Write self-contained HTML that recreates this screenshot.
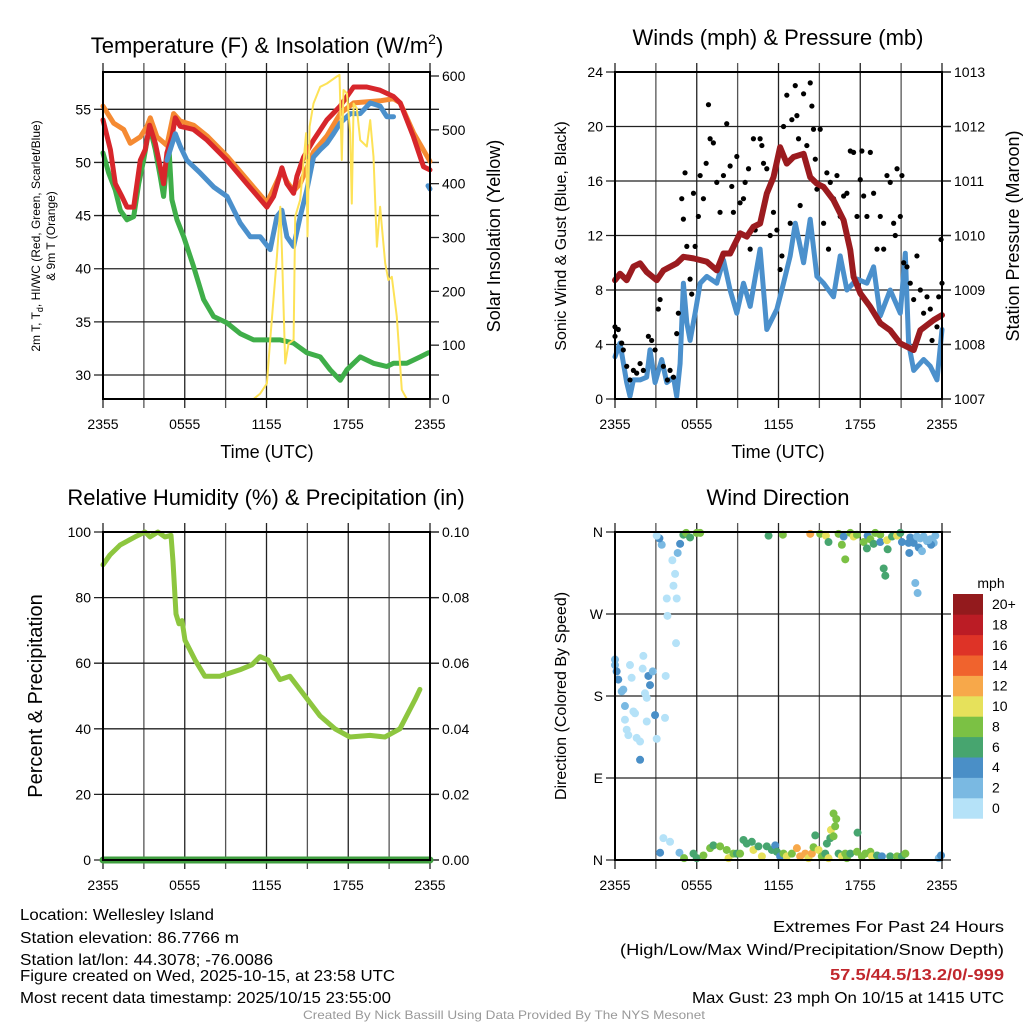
<!DOCTYPE html>
<html><head><meta charset="utf-8">
<style>
html,body{margin:0;padding:0;background:#fff;}
svg{display:block;font-family:"Liberation Sans",sans-serif;}
</style></head>
<body>
<svg id="fig" width="1024" height="1024" viewBox="0 0 1024 1024">
<g id="layer-bg"></g>
<g id="layer-data"></g>
<g id="layer-fg"></g>
<g id="layer-text" font-family="Liberation Sans, sans-serif" fill="#000">
  <text x="267" y="53" font-size="22" text-anchor="middle">Temperature (F) &amp; Insolation (W/m<tspan font-size="14" dy="-9">2</tspan><tspan dy="9">)</tspan></text>
  <text x="778" y="45" font-size="22" text-anchor="middle">Winds (mph) &amp; Pressure (mb)</text>
  <text x="266" y="505" font-size="22" text-anchor="middle">Relative Humidity (%) &amp; Precipitation (in)</text>
  <text x="778" y="505" font-size="22" text-anchor="middle">Wind Direction</text>

  <text x="267" y="458" font-size="18" text-anchor="middle">Time (UTC)</text>
  <text x="778" y="458" font-size="18" text-anchor="middle">Time (UTC)</text>

  <text transform="translate(40,236) rotate(-90)" font-size="12" text-anchor="middle">2m T, T<tspan font-size="9" dy="3">d</tspan><tspan dy="-3">, HI/WC (Red, Green, Scarlet/Blue)</tspan></text>
  <text transform="translate(55,236) rotate(-90)" font-size="12" text-anchor="middle">&amp; 9m T (Orange)</text>
  <text transform="translate(500,236) rotate(-90)" font-size="18" text-anchor="middle">Solar Insolation (Yellow)</text>
  <text transform="translate(566,236) rotate(-90)" font-size="16" text-anchor="middle">Sonic Wind &amp; Gust (Blue, Black)</text>
  <text transform="translate(1019,236) rotate(-90)" font-size="18" text-anchor="middle">Station Pressure (Maroon)</text>
  <text transform="translate(42,696) rotate(-90)" font-size="20" text-anchor="middle">Percent &amp; Precipitation</text>
  <text transform="translate(566,696) rotate(-90)" font-size="16" text-anchor="middle">Direction (Colored By Speed)</text>

  <text x="991" y="588" font-size="14" text-anchor="middle">mph</text>

  <g font-size="16">
    <text x="20" y="920" textLength="194" lengthAdjust="spacingAndGlyphs">Location: Wellesley Island</text>
    <text x="20" y="943" textLength="219" lengthAdjust="spacingAndGlyphs">Station elevation: 86.7766 m</text>
    <text x="20" y="965" textLength="253" lengthAdjust="spacingAndGlyphs">Station lat/lon: 44.3078; -76.0086</text>
    <text x="20" y="981" textLength="375" lengthAdjust="spacingAndGlyphs">Figure created on Wed, 2025-10-15, at 23:58 UTC</text>
    <text x="20" y="1003" textLength="371" lengthAdjust="spacingAndGlyphs">Most recent data timestamp: 2025/10/15 23:55:00</text>
  </g>
  <g font-size="16">
    <text x="773" y="932" textLength="231" lengthAdjust="spacingAndGlyphs">Extremes For Past 24 Hours</text>
    <text x="620" y="955" textLength="384" lengthAdjust="spacingAndGlyphs">(High/Low/Max Wind/Precipitation/Snow Depth)</text>
    <text x="830" y="980" textLength="174" lengthAdjust="spacingAndGlyphs" fill="#c1272d" font-weight="bold">57.5/44.5/13.2/0/-999</text>
    <text x="692" y="1003" textLength="312" lengthAdjust="spacingAndGlyphs">Max Gust: 23 mph On 10/15 at 1415 UTC</text>
  </g>
  <text x="303" y="1019" font-size="12" fill="#999" textLength="402" lengthAdjust="spacingAndGlyphs">Created By Nick Bassill Using Data Provided By The NYS Mesonet</text>
</g>
</svg>
<script>
// ---- data (hours since 2355 UTC) ----
const timeTickLabels = ["2355","0555","1155","1755","2355"];
const tempTicks = [30,35,40,45,50,55];
const insolTicks = [0,100,200,300,400,500,600];
const windTicks = [0,4,8,12,16,20,24];
const presTicks = [1007,1008,1009,1010,1011,1012,1013];
const rhTicks = [0,20,40,60,80,100];
const precipTicks = ["0.00","0.02","0.04","0.06","0.08","0.10"];
const dirTickLabels = ["N","E","S","W","N"];

const tRedH = [0,0.54,0.9,1.39,1.76,2.25,2.74,3.1,3.42,3.84,4.2,4.45,4.69,5.06,5.31,5.67,6.65,7.63,9.1,10.56,12.03,12.52,13.13,13.5,13.99,14.23,14.72,15.45,16.43,17.41,18.39,19.36,20.34,21.32,21.81,22.79,23.52,24];
const tRedV = [54,51.2,48,46.8,45.8,45.8,50.2,51.2,53.5,51.8,49.6,48,50.9,52.4,54.2,53.4,53.1,52.1,50.2,48,45.8,46.8,49.5,48,47.1,48.7,50.5,52.1,54,55.3,57.1,57.1,56.8,56.2,55.6,52.4,49.6,49.3];
const tOrgH = [0,0.78,1.52,2.0,2.74,3.23,3.47,3.96,4.69,5.18,5.67,6.65,7.63,9.1,10.56,12.03,13.13,13.5,13.99,14.47,15.45,16.43,17.41,18.39,20.34,21.32,21.81,22.79,24];
const tOrgV = [55.3,53.7,53.1,51.8,52.4,53.4,54.2,52.4,51.6,54.6,53.9,53.5,52.5,50.6,48.4,46.2,49.2,48.2,47.3,48,51,52.5,54.6,55.6,55.8,56,55.6,52.8,50.1];
const tBluH = [4.69,5.31,5.67,6.16,7.14,8.12,9.1,10.07,10.81,11.54,12.27,12.76,13.13,13.5,13.99,14.47,14.96,15.45,15.94,16.43,16.92,17.41,18.14,18.88,19.61,20.34,20.83,21.32];
const tBluV = [50.2,52.7,51.5,50.2,49,47.7,46.8,44.3,43,43,41.8,44.9,45.5,43,42.1,44.9,47.4,50.5,51.2,51.8,52.7,53.7,54.6,54.6,55.6,55.3,54.3,54.3];
const tBluEndH = [23.85,24];
const tBluEndV = [47.8,47.5];
const tGrnH = [0,0.42,0.9,1.27,1.76,2.25,2.62,2.98,3.42,3.84,4.2,4.45,4.82,5.06,5.43,5.92,6.65,7.38,8.12,9.1,10.07,11.05,12.03,13.01,13.99,14.96,15.94,16.67,17.41,17.9,18.88,19.85,20.83,21.32,22.3,23.28,23.89];
const tGrnV = [50.9,49,47.4,45.5,44.6,44.9,48,50.2,53.4,51.2,48.7,46.8,51.8,46.5,44.6,43,40.2,37.1,35.5,34.9,33.9,33.3,33.3,33.3,33,32.1,31.7,30.5,29.5,30.5,31.7,31.1,30.8,31.1,31.1,31.7,32.1];
const insolH = [0,11.05,11.54,12.03,12.27,12.76,13.01,13.13,13.37,13.62,13.99,14.11,14.47,14.91,15.01,15.16,15.45,15.94,16.43,17.16,17.36,17.53,17.65,17.9,18.14,18.26,18.39,18.63,18.88,19.36,19.61,19.85,20.1,20.34,20.71,20.95,21.2,21.56,21.93,22.3,24];
const insolV = [0,0,10,29,110,264,357,277,66,103,110,339,370,494,302,506,549,580,586,599,602,444,574,568,494,363,549,540,481,469,518,450,283,357,252,221,227,153,17,0,0];

const presH = [0,0.37,0.86,1.35,1.84,2.33,3.06,3.55,4.53,5.02,5.76,6.74,7.47,7.96,8.45,9.18,9.67,10.16,10.65,11.14,11.63,12.12,12.61,13.1,13.84,14.33,14.82,15.31,16.04,16.78,17.27,17.51,18,18.74,19.47,20.2,20.94,21.92,22.41,23.39,24];
const presV = [1009.18,1009.3,1009.18,1009.43,1009.49,1009.33,1009.18,1009.36,1009.49,1009.61,1009.58,1009.52,1009.36,1009.67,1009.67,1010.04,1009.98,1010.16,1010.22,1010.77,1011.07,1011.62,1011.32,1011.44,1011.5,1011.07,1010.95,1010.89,1010.65,1010.28,1009.73,1009.24,1008.94,1008.69,1008.39,1008.26,1008.02,1007.9,1008.26,1008.45,1008.54];
const windH = [0,0.37,0.86,1.1,1.35,1.84,2.33,2.57,2.94,3.43,3.8,4.29,4.53,4.78,5.02,5.27,5.51,5.88,6.25,6.74,7.47,7.96,8.45,8.94,9.43,9.92,10.65,11.14,11.88,12.37,12.86,13.23,13.84,14.33,14.82,15.31,16.04,16.53,17.02,17.76,18.49,18.98,19.47,20.2,20.94,21.31,21.55,21.92,22.65,23.14,23.63,24];
const windV = [3.1,4.1,1.2,0.2,1.4,1.4,1.6,3.6,1.2,2.9,1.2,1.6,0.2,2.6,8.5,5.6,4.3,6.3,8.5,9,8.5,10.2,8,6.3,8.5,6.8,11,5.1,6.6,8.5,10.5,12.9,10,13.2,9,8.5,7.5,10.5,8,8.8,8.5,9.7,6.1,8,6.3,10.7,4.1,2.1,2.9,2.4,1.4,5.1];
const gustH = [0,0,0.24,0.49,0.61,0.86,1.1,1.35,1.59,1.84,2.08,2.45,2.69,2.94,3.18,3.31,3.55,3.85,4.04,4.29,4.53,4.65,4.9,5.02,5.14,5.27,5.51,5.63,5.76,5.88,6.12,6.25,6.49,6.69,6.86,6.98,7.22,7.47,7.71,7.96,8.2,8.45,8.57,8.69,8.94,9.18,9.43,9.55,9.8,9.92,10.16,10.29,10.65,10.78,10.9,11.14,11.39,11.63,11.88,12.12,12.25,12.37,12.61,12.86,12.98,13.23,13.35,13.47,13.59,13.84,14.08,14.33,14.45,14.57,14.7,14.82,15.06,15.31,15.55,15.67,15.8,16.04,16.29,16.53,16.78,17.02,17.27,17.51,17.76,18,18.12,18.25,18.49,18.74,18.98,19.23,19.47,19.72,19.96,20.2,20.45,20.57,20.7,20.94,21.06,21.19,21.43,21.67,21.92,22.16,22.41,22.65,22.9,23.14,23.27,23.39,23.63,23.76,23.93,24];
const gustV = [4.6,5.3,5.1,4.1,3.6,2.4,1.4,2.1,1.9,2.6,2.1,4.6,4.3,3.6,6.6,7.3,2.4,1.4,2.1,1.6,4.8,6.3,14.7,13.2,16.6,11.2,8.8,7.7,15.1,11.2,13.4,16.4,14.7,17.3,21.6,19.1,18.8,15.9,13.7,16.4,20.2,17.1,15.6,13.7,17.8,14.4,14.7,15.9,16.9,11,19.1,12.4,19.1,18.6,17.3,16.9,12,13.7,12.4,9.5,10.5,20,22.3,12.9,20.5,23,20.8,19.1,14.2,22.4,18.6,23.2,21.5,19.8,17.6,15.4,19.8,12.9,16.6,11,15.9,14.7,16.4,13.4,14.9,15.1,18.2,18.1,13.4,16.1,18.2,14.9,13.4,18.1,15.1,11,13.4,11,16.4,15.9,12.9,12,16.9,13.4,16.4,10,9.7,8.5,7.3,10.5,8,6.3,7.5,6.6,4.3,5.8,5.3,7.5,11.7,8.5];

const rhH = [0,0.51,1.25,2.35,3.08,3.45,4.03,4.55,4.99,5.14,5.36,5.58,5.8,6.02,6.75,7.48,8.58,10.05,10.93,11.52,12.1,12.98,13.72,14.82,15.92,17.02,18.12,19.59,20.69,21.79,22.89,23.26];
const rhV = [90,93,96,98.5,100,98.5,100,98.5,99,91,75,72,73,67,61,56,56,58,59.5,62,61,55,56,50,44,40,37.5,38,37.5,40,48.8,52];
const precipH = [0,24];
const precipV = [0,0];

const dirH = [0,0,0.12,0.24,0.49,0.61,0.73,1.1,1.22,1.35,1.47,0.73,0.86,0.98,1.59,1.84,1.84,2.08,2.03,2.2,2.33,2.45,2.57,2.77,2.94,2.33,3.06,3.67,3.72,4.48,3.85,3.8,4.53,4.29,4.41,4.21,4.6,4.78,3.43,3.26,3.06,5.02,5.22,5.51,6,6.25,3.31,3.55,4.04,4.73,5.07,
5.76,6,6.49,6.98,7.22,7.71,8.2,8.33,8.69,8.94,9.18,9.43,9.67,10.04,10.16,10.53,10.78,11.14,11.51,11.76,11.88,12.12,12.37,12.61,12.98,13.35,13.59,13.96,14.2,14.45,14.57,14.7,14.94,15.18,15.43,15.55,15.67,15.8,15.85,16.04,16.16,16.04,16.24,16.41,16.65,16.9,17.02,17.27,17.76,17.8,18.12,18.37,18.74,18.86,19.23,19.59,20.2,20.7,21.06,21.31,23.76,23.93,
11.27,12.32,14.33,15.06,15.48,15.67,16.41,16.65,16.78,16.9,17.27,17.51,17.76,18.25,18.49,18.54,18.74,18.98,19.1,19.47,19.47,19.72,19.84,19.96,20.01,20.33,20.7,20.94,21.06,21.55,21.6,21.67,21.92,22.04,22.21,22.16,22.29,22.53,22.65,22.9,23.14,23.39,23.51,23.2,23.0,22.4];
const dirD = [220,214,207,198,185,187,169,214,200,163,161,154,143,137,134,130,110,224,210,183,178,202,192,207,159,152,133,156,202,238,268,287,287,301,314,329,337,347,346,353,356,357,359,354,359,359,8,24,20,8,2,
7,2,5,13,16,15,11,2,7,7,7,22,18,20,11,15,4,15,11,16,9,4,7,4,7,13,4,7,2,7,14,27,11,4,7,18,2,24,33,26,37,51,45,7,4,7,2,7,9,30,4,7,9,4,5,4,4,4,4,7,2,5,
356,357,358,358,356,349,358,346,355,330,359,355,357,349,342,356,352,347,359,357,349,320,312,351,341,355,356,359,349,348,337,354,348,304,293,355,343,339,355,350,352,348,356,346,351,353];
const dirS = [3,3,5,5,3,3,3,1,1,1,1,1,1,1,1,1,5,1,1,1,1,5,5,3,5,1,1,1,1,1,1,1,1,1,1,1,3,5,3,5,1,7,9,7,9,9,5,1,1,3,9,
7,7,9,9,7,9,9,11,9,7,9,7,7,7,11,7,11,7,7,5,7,5,9,11,9,13,13,13,11,13,9,7,11,9,7,7,11,7,11,9,9,9,9,7,11,9,9,7,9,7,9,9,9,11,7,5,7,9,7,9,2,5,
7,9,13,9,11,7,9,9,5,9,9,11,9,9,7,5,9,7,9,9,5,7,7,11,7,7,11,7,5,5,5,5,5,3,3,3,5,3,3,3,3,3,3,5,3,3];
const speedBinLabels = ["0","2","4","6","8","10","12","14","16","18","20+"];
const speedColors = ["#b5e2f8","#7ab9e2","#4a8fc7","#47a56f","#7bc144","#e6e15b","#f7a84a","#f0632d","#de3327","#bb1c25","#931a1d"];

// ---- helpers ----
const NS = "http://www.w3.org/2000/svg";
const bg = document.getElementById('layer-bg');
const dl = document.getElementById('layer-data');
const fg = document.getElementById('layer-fg');
function mk(tag, attrs, parent){
  const e = document.createElementNS(NS, tag);
  for (const k in attrs) e.setAttribute(k, attrs[k]);
  parent.appendChild(e);
  return e;
}
function lin(d0,d1,r0,r1){ return v => r0 + (v-d0)*(r1-r0)/(d1-d0); }

const P = {
  temp:{x0:103,x1:430,y0:72,y1:399},
  wind:{x0:615,x1:942,y0:72,y1:399},
  rh:{x0:103,x1:430,y0:532,y1:860},
  dir:{x0:615,x1:942,y0:532,y1:860}
};

function frame(p, name, yTicksL, ysL, labL, yTicksR, ysR, labR){
  const xs = lin(0,24,p.x0,p.x1);
  const g = mk('g',{},bg);
  
  
  for (let i=0;i<=8;i++){
    const x = xs(i*3);
    const ln = mk('line',{x1:x,x2:x,y1:p.y0-9,y2:p.y1+9,stroke:(i%2? '#555':'#222'),'stroke-width':1.3},g);
    
    
  }
  yTicksL.forEach((v,i)=>{
    const y = ysL(v);
    const ln = mk('line',{x1:p.x0-9,x2:p.x1+9,y1:y,y2:y,stroke:'#222','stroke-width':1.3},g);
    
    
    const t = mk('text',{x:p.x0-12,y:y+5,'font-size':14,'text-anchor':'end'},fg);
    t.textContent = labL ? labL[i] : v;
    
    
  });
  if (yTicksR){
    yTicksR.forEach((v,i)=>{
      const y = ysR(v);
      mk('line',{x1:p.x1,x2:p.x1+9,y1:y,y2:y,stroke:'#222','stroke-width':1.3},g);
      const t = mk('text',{x:p.x1+12,y:y+5,'font-size':14},fg);
      t.textContent = labR ? labR[i] : v;
      
      
    });
  }
  timeTickLabels.forEach((s,i)=>{
    const t = mk('text',{x:xs(i*6),y:p.y1+30,'font-size':14,'text-anchor':'middle'},fg);
    t.textContent = s;
    
    
  });
  const r = mk('rect',{x:p.x0,y:p.y0,width:p.x1-p.x0,height:p.y1-p.y0,fill:'none',stroke:'#000','stroke-width':2},fg);
  
  
  return xs;
}
function line(xs, ys, H, V, color, w, name, parent){
  let d='';
  H.forEach((h,i)=>{ d += (i?'L':'M') + xs(h).toFixed(1)+','+ys(V[i]).toFixed(1); });
  const e = mk('path',{d:d,fill:'none',stroke:color,'stroke-width':w,'stroke-linejoin':'round','stroke-linecap':'round'},parent||dl);
  
  
}

// ---- Panel 1: temperature ----
{
  const p = P.temp;
  const ysT = lin(30,55,375,109.3);
  const ysI = lin(0,600,399,76);
  const xs = frame(p,'temperature-panel',tempTicks,ysT,null,insolTicks,ysI,null);
  line(xs,ysT,tGrnH,tGrnV,'#3fae49',5,'dewpoint-line');
  line(xs,ysT,tOrgH,tOrgV,'#f58a32',5,'temp-9m-line');
  line(xs,ysT,tRedH,tRedV,'#d7262b',5,'temp-2m-line');
  line(xs,ysT,tBluH,tBluV,'#4b90cc',5,'heat-index-line');
  line(xs,ysT,tBluEndH,tBluEndV,'#4b90cc',5,'heat-index-line-end');
  line(xs,ysI,insolH,insolV,'#fde257',2,'insolation-line');
}
// ---- Panel 2: winds ----
{
  const p = P.wind;
  const ysW = lin(0,24,399,72);
  const ysP = lin(1007,1013,399,72);
  const xs = frame(p,'winds-panel',windTicks,ysW,null,presTicks,ysP,null);
  line(xs,ysW,windH,windV,'#4b90cc',5,'sonic-wind-line');
  gustH.forEach((h,i)=>{
    const c = mk('circle',{cx:xs(h),cy:ysW(gustV[i]),r:2.6,fill:'#000'},dl);
    
    
  });
  line(xs,ysP,presH,presV,'#9b1b1f',6,'pressure-line');
}
// ---- Panel 3: humidity ----
{
  const p = P.rh;
  const ysR = lin(0,100,860,532);
  const ysPr = lin(0,0.1,860,532);
  const xs = frame(p,'humidity-panel',rhTicks,ysR,null,[0,0.02,0.04,0.06,0.08,0.1],ysPr,precipTicks);
  line(xs,ysR,rhH,rhV,'#8dc63f',5,'humidity-line');
  line(xs,ysPr,precipH,precipV,'#3f9e3f',7,'precipitation-line');
}
// ---- Panel 4: wind direction ----
{
  const p = P.dir;
  const ysD = lin(0,360,860,532);
  const xs = frame(p,'direction-panel',[0,90,180,270,360],ysD,dirTickLabels,null,null,null);
  dirH.forEach((h,i)=>{
    const bin = Math.min(10, Math.floor(dirS[i]/2));
    const c = mk('circle',{cx:xs(h),cy:ysD(dirD[i]),r:4,fill:speedColors[bin]},dl);
    
    
  });
  const cb = mk('g',{},fg);
  
  
  const top=594, h=20.4;
  for (let i=0;i<11;i++){
    const r = mk('rect',{x:953,y:top+(10-i)*h,width:30,height:h+0.3,fill:speedColors[i]},cb);
    
    
    const t = mk('text',{x:992,y:top+(10-i)*h+15,'font-size':14},cb);
    t.textContent = speedBinLabels[i];
    
    
  }
}
</script>
</body></html>
